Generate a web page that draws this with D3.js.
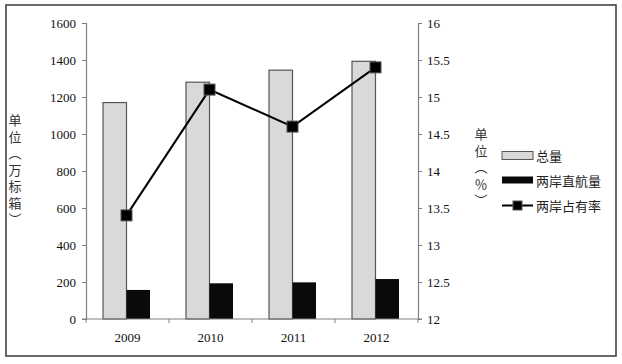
<!DOCTYPE html>
<html><head><meta charset="utf-8">
<script src="https://cdn.jsdelivr.net/npm/d3@7/dist/d3.min.js"></script>
<style>body{margin:0;background:#fff}svg{display:block}</style>
</head><body>
<svg id="c" width="622" height="364"></svg>
<script>
const categories = ["2009","2010","2011","2012"];
const totalValues = [1170, 1280, 1345, 1393];
const directValues = [157, 193, 198, 216];
const shareValues = [13.4, 15.1, 14.6, 15.4];
const leftTicks = [0,200,400,600,800,1000,1200,1400,1600];
const rightTicks = [12,12.5,13,13.5,14,14.5,15,15.5,16];
const seriesNames = ["总量","两岸直航量","两岸占有率"];
const leftTitle = "单位︵万标箱︶";
const rightTitle = "单位︵％︶";

const svg = d3.select("#c");
const numFont = "'Liberation Serif','DejaVu Serif',serif";
const cjkFont = "'Noto Sans CJK SC',sans-serif";
const L = 86, R = 418, T = 23, B = 319;

svg.append("rect").attr("x",6).attr("y",5).attr("width",610).attr("height",351)
  .attr("fill","#fff").attr("stroke","#444").attr("stroke-width",1.6);

const x = d3.scaleBand().domain(categories).range([L,R]);
const yL = d3.scaleLinear().domain([0,1600]).range([B,T]);
const yR = d3.scaleLinear().domain([12,16]).range([B,T]);

const bw = 23.5, off = 17;
svg.append("g").selectAll("rect").data(categories).join("rect")
  .attr("x",d=>x(d)+off).attr("y",(d,i)=>yL(totalValues[i]))
  .attr("width",bw).attr("height",(d,i)=>B-yL(totalValues[i]))
  .attr("fill","#d9d9d9").attr("stroke","#555").attr("stroke-width",1.2);
svg.append("g").selectAll("rect").data(categories).join("rect")
  .attr("x",d=>x(d)+off+bw).attr("y",(d,i)=>yL(directValues[i]))
  .attr("width",bw).attr("height",(d,i)=>B-yL(directValues[i]))
  .attr("fill","#0a0a0a");

const axL = svg.append("g").attr("transform",`translate(${L},0)`)
  .call(d3.axisLeft(yL).tickValues(leftTicks).tickSize(4).tickPadding(6).tickFormat(d3.format("d")));
const axR = svg.append("g").attr("transform",`translate(${R},0)`)
  .call(d3.axisRight(yR).tickValues(rightTicks).tickSize(4).tickPadding(5).tickFormat(d=>String(d)));
const axB = svg.append("g").attr("transform",`translate(0,${B})`)
  .call(d3.axisBottom(x).tickSize(0).tickPadding(14));
svg.append("g").attr("transform",`translate(0,${B})`).selectAll("line")
  .data([L, ...categories.map(d=>x(d)+x.bandwidth())]).join("line")
  .attr("x1",d=>d).attr("x2",d=>d).attr("y1",0).attr("y2",4).attr("stroke","#808080");
svg.append("line").attr("x1",L-4).attr("x2",R+4).attr("y1",B).attr("y2",B).attr("stroke","#808080").attr("stroke-width",1.2);
[axL,axR,axB].forEach(a=>{
  a.select(".domain").attr("stroke","#808080").attr("stroke-width",1.2);
  a.selectAll(".tick line").attr("stroke","#808080");
  a.selectAll("text").attr("font-family",numFont).attr("font-size",13).attr("fill","#111");
});
axB.select(".domain").remove();

const px = (d,i)=>x(categories[i])+off+bw;
const line = d3.line().x((d,i)=>px(d,i)).y(d=>yR(d));
svg.append("path").datum(shareValues).attr("d",line).attr("fill","none").attr("stroke","#000").attr("stroke-width",2);
svg.append("g").selectAll("rect").data(shareValues).join("rect")
  .attr("x",(d,i)=>px(d,i)-5.5).attr("y",d=>yR(d)-5.5).attr("width",11).attr("height",11)
  .attr("fill","#000").attr("stroke","#555").attr("stroke-width",1);

function vtitle(str, cx, top){
  svg.append("text").attr("x",cx).attr("y",top)
    .style("writing-mode","vertical-rl").style("text-orientation","upright")
    .attr("letter-spacing",3.5)
    .attr("font-family",cjkFont).attr("font-size",13).attr("fill","#333").text(str);
}
vtitle(leftTitle, 15, 114);
vtitle(rightTitle, 481, 128);

const lg = svg.append("g");
const ly = [155.5, 180, 205.5];
lg.append("rect").attr("x",502).attr("y",151.5).attr("width",31).attr("height",8).attr("fill","#d9d9d9").attr("stroke","#555").attr("stroke-width",1);
lg.append("rect").attr("x",502).attr("y",176.5).attr("width",31).attr("height",7).attr("fill","#0a0a0a");
lg.append("line").attr("x1",502).attr("x2",533).attr("y1",ly[2]).attr("y2",ly[2]).attr("stroke","#000").attr("stroke-width",2);
lg.append("rect").attr("x",513).attr("y",ly[2]-4.5).attr("width",9).attr("height",9).attr("fill","#000").attr("stroke","#555");
lg.selectAll("text").data(seriesNames).join("text")
  .attr("x",536).attr("y",(d,i)=>ly[i]).attr("dominant-baseline","central")
  .attr("font-family",cjkFont).attr("font-size",13).attr("fill","#222").text(d=>d);
</script>
</body></html>
